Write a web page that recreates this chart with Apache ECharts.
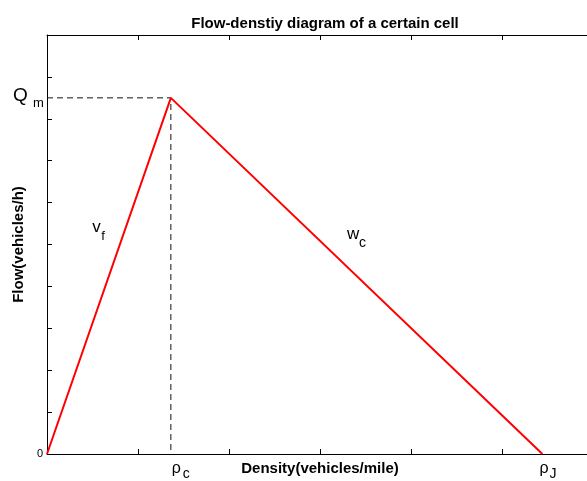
<!DOCTYPE html>
<html>
<head>
<meta charset="utf-8">
<script src="https://cdn.jsdelivr.net/npm/echarts@6/dist/echarts.min.js"></script>
<style>html,body{margin:0;padding:0;background:#fff;}#c{width:587px;height:481px;}</style>
</head>
<body>
<div id="c"></div>
<script>
// Data
var rhoC = 1.36;      // critical density
var rhoJ = 5.44;      // jam density
var Qm = 8.5;         // max flow
var fundamentalX = [0, rhoC, rhoJ];
var fundamentalY = [0, Qm, 0];
var guideX = [0, rhoC, rhoC];
var guideY = [Qm, Qm, 0];
var xRange = [0, 5.93];   // visible part of the x axis (plot box is cut at the right edge)
var yRange = [0, 10];
// label anchors in data units
var vfAnchor = [0.54, 5.4];
var wcAnchor = [3.35, 5.25];

var font = '"Liberation Sans", Arial, Helvetica, sans-serif';
var chart = echarts.init(document.getElementById('c'), null, {renderer: 'canvas'});

function pairs(xs, ys){ return xs.map(function(x,i){ return [x, ys[i]]; }); }

var axisLine = {show: true, onZero: false, lineStyle: {color: '#000', width: 1}};
var tick = {show: true, inside: true, length: 5, lineStyle: {color: '#000', width: 1}};

chart.setOption({
  animation: false,
  backgroundColor: '#fff',
  title: {
    text: 'Flow-denstiy diagram of a certain cell',
    left: 320, top: 11, textAlign: 'center',
    textStyle: {fontFamily: font, fontSize: 15, fontWeight: 'bold', color: '#000'}
  },
  grid: {left: 47, right: 0, top: 35, bottom: 26, containLabel: false},
  xAxis: [{
    type: 'value', min: xRange[0], max: xRange[1], interval: 1, position: 'bottom',
    axisLine: axisLine, axisTick: tick, axisLabel: {show: false}, splitLine: {show: false},
    name: 'Density(vehicles/mile)', nameLocation: 'middle', nameGap: 7,
    nameTextStyle: {fontFamily: font, fontSize: 15, fontWeight: 'bold', color: '#000', verticalAlign: 'top', padding: [0, 0, 0, 6]}
  }, {
    type: 'value', min: xRange[0], max: xRange[1], interval: 1, position: 'top',
    axisLine: axisLine, axisTick: tick, axisLabel: {show: false}, splitLine: {show: false}
  }],
  yAxis: [{
    type: 'value', min: yRange[0], max: yRange[1], interval: 1,
    axisLine: axisLine, axisTick: tick, splitLine: {show: false},
    axisLabel: {show: true, margin: 4, fontFamily: font, fontSize: 11, color: '#000',
      formatter: function(v){ return v === 0 ? '0' : ''; }},
    name: 'Flow(vehicles/h)', nameLocation: 'middle', nameGap: 16,
    nameTextStyle: {fontFamily: font, fontSize: 15, fontWeight: 'bold', color: '#000'}
  }],
  series: [{
    type: 'line', data: pairs(guideX, guideY), symbol: 'none', silent: true,
    lineStyle: {color: '#111', width: 1, type: [6, 4]}, z: 1
  }, {
    type: 'line', data: pairs(fundamentalX, fundamentalY), symbol: 'none', silent: true,
    lineStyle: {color: '#ff0000', width: 2}, z: 2
  }]
});

function px(p){ return chart.convertToPixel({xAxisIndex: 0, yAxisIndex: 0}, p); }
function sub(main, subs, p, dx, dy, big, small, sdx, sdy){
  return [
    {type: 'text', x: p[0] + dx, y: p[1] + dy, style: {text: main, font: big + 'px ' + font, fill: '#000', textVerticalAlign: 'middle'}},
    {type: 'text', x: p[0] + dx + sdx, y: p[1] + dy + sdy, style: {text: subs, font: small + 'px ' + font, fill: '#000', textVerticalAlign: 'middle'}}
  ];
}
var pQ = px([0, Qm]), pC = px([rhoC, 0]), pJ = px([rhoJ, 0]), pV = px(vfAnchor), pW = px(wcAnchor);
var els = []
  .concat(sub('Q', 'm', pQ, -34, -2, 19, 13, 20, 8))
  .concat(sub('\u03c1', 'c', pC, 1, 15, 16, 14, 11, 5))
  .concat(sub('\u03c1', 'J', pJ, -3, 15, 16, 14, 10, 5))
  .concat(sub('v', 'f', pV, -4, 0, 17, 13, 9, 9))
  .concat(sub('w', 'c', pW, -5, 0, 17, 14, 12, 9));
chart.setOption({graphic: {elements: els}});
</script>
</body>
</html>
